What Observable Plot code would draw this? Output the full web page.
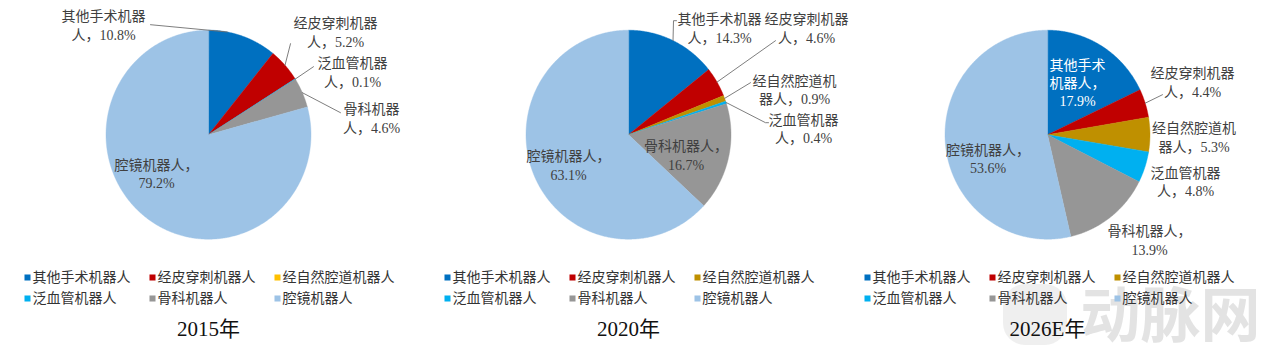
<!DOCTYPE html>
<html>
<head>
<meta charset="utf-8">
<script src="https://cdn.jsdelivr.net/npm/d3@7"></script>
<script src="https://cdn.jsdelivr.net/npm/@observablehq/plot@0.6"></script>
<style>
  html, body { margin: 0; padding: 0; background: #fff; }
  #chart svg { display: block; }
</style>
</head>
<body>
<div id="chart"></div>
<script>
// ---------- data ----------
const categories = ["其他手术机器人", "经皮穿刺机器人", "经自然腔道机器人", "泛血管机器人", "骨科机器人", "腔镜机器人"];
const years = ["2015年", "2020年", "2026E年"];
const share2015 = [10.8, 5.2, 0, 0.1, 4.6, 79.2];
const share2020 = [14.3, 4.6, 0.9, 0.4, 16.7, 63.1];
const share2026 = [17.9, 4.4, 5.3, 4.8, 13.9, 53.6];
const colors2015 = ["#0070C0", "#C00000", "#FFC000", "#00B0F0", "#969696", "#9DC3E6"];
const colorsLater = ["#0070C0", "#C00000", "#BF9000", "#00B0F0", "#969696", "#9DC3E6"];
const watermark = "动脉网";

// ---------- layout (label offsets relative to each pie centre) ----------
const layouts = [
  { // 2015
    0: {dx: -105, dy: -110, brk: [6], leader: [[-58, -110]], edgeDeg: 10.6},
    1: {dx: 127, dy: -103, brk: [6], leader: [[82, -91]]},
    3: {dx: 144, dy: -63, brk: [5], leader: [[105, -68]]},
    4: {dx: 163, dy: -17, brk: [4], leader: [[132, -22]]},
    5: {dx: -52, dy: 38.5, brk: [6]}
  },
  { // 2020
    0: {dx: 91, dy: -107, brk: [6], leader: [[48, -114], [45, -114]]},
    1: {dx: 178, dy: -107, brk: [6], leader: [[147, -94]]},
    2: {dx: 166, dy: -45.5, brk: [6], leader: [[122, -52]]},
    3: {dx: 175, dy: -6.5, brk: [5], leader: [[140, -12], [137, -12]]},
    4: {dx: 57.5, dy: 20, brk: [6]},
    5: {dx: -60, dy: 30, brk: [6]}
  },
  { // 2026E
    0: {dx: 30, dy: -52.5, brk: [4, 8], inside: true},
    1: {dx: 145, dy: -53, brk: [6], leader: [[115, -40]]},
    2: {dx: 146.5, dy: 2, brk: [6]},
    3: {dx: 138, dy: 46.5, brk: [5]},
    4: {dx: 102, dy: 105, brk: [6]},
    5: {dx: -59.5, dy: 23.5, brk: [6]}
  }
];

const panelW = 420, cx0 = 208, cy = 134.2, rx = 102.5, ry = 104.5;
const panels = [
  {year: years[0], values: share2015, colors: colors2015},
  {year: years[1], values: share2020, colors: colorsLater},
  {year: years[2], values: share2026, colors: colorsLater}
];

const slices = [], leaders = [], labels = [], legendItems = [], titles = [];
const pie = d3.pie().sort(null).value(d => d.value);

panels.forEach((p, pi) => {
  const cx = cx0 + panelW * pi - (pi === 2 ? 1 : 0);
  const items = categories.map((c, k) => ({k, name: c, value: p.values[k], color: p.colors[k]})).filter(d => d.value > 0);
  const arcs = pie(items);
  arcs.forEach(a => {
    const key = pi + "-" + a.data.k;
    slices.push({key, x: cx, y: cy, color: a.data.color});
    const n = Math.max(2, Math.ceil((a.endAngle - a.startAngle) / (Math.PI / 360)));
    for (let j = 0; j <= n; j++) {
      const t = a.startAngle + (a.endAngle - a.startAngle) * j / n;
      slices.push({key, x: cx + rx * Math.sin(t), y: cy - ry * Math.cos(t), color: a.data.color});
    }
    const L = layouts[pi][a.data.k];
    if (!L) return;
    const txt = a.data.name + "，" + a.data.value.toFixed(1) + "%";
    const cuts = [0, ...L.brk, txt.length];
    const lines = [];
    for (let j = 0; j < cuts.length - 1; j++) lines.push(txt.slice(cuts[j], cuts[j + 1]));
    labels.push({x: cx + L.dx, y: cy + L.dy, text: lines.join("\n"), fill: L.inside ? "#ffffff" : "#404040"});
    if (L.leader) {
      const mid = L.edgeDeg != null ? L.edgeDeg * Math.PI / 180 : (a.startAngle + a.endAngle) / 2;
      L.leader.forEach(([lx, ly]) => leaders.push({key, x: cx + lx, y: cy + ly}));
      leaders.push({key, x: cx + rx * Math.sin(mid), y: cy - ry * Math.cos(mid)});
    }
  });
  categories.forEach((c, k) => {
    legendItems.push({x: panelW * pi + 27 + (k % 3) * 125, y: 277 + Math.floor(k / 3) * 21, name: c, color: p.colors[k]});
  });
  titles.push({x: cx, y: 329, text: p.year});
});

const labelFont = "'Liberation Serif', 'Noto Sans CJK SC', serif";
const cjkFont = "'Noto Sans CJK SC', sans-serif";

const chart = Plot.plot({
  width: 1267,
  height: 356,
  margin: 0,
  x: {type: "identity", axis: null},
  y: {type: "identity", axis: null},
  color: {type: "identity"},
  style: {background: "#fff"},
  marks: [
    // watermark
    Plot.rect([{x1: 1003, x2: 1067, y1: 284, y2: 345}], {x1: "x1", x2: "x2", y1: "y1", y2: "y2", rx: 22, fill: "#d0d0d0", fillOpacity: 0.35}),
    Plot.text([{x: 1170, y: 317, t: watermark}], {x: "x", y: "y", text: "t", fontSize: 60, fontWeight: "bold", fill: "#c8c8c8", fillOpacity: 0.5, fontFamily: cjkFont}),
    // pies
    Plot.line(slices, {x: "x", y: "y", z: "key", fill: "color", stroke: "color", strokeWidth: 0.4, curve: "linear-closed"}),
    // leader lines
    Plot.line(leaders, {x: "x", y: "y", z: "key", stroke: "#6f6f6f", strokeWidth: 0.9}),
    // data labels
    Plot.text(labels, {x: "x", y: "y", text: "text", fill: "fill", fontSize: 14, lineHeight: 1.3, textAnchor: "middle", fontFamily: labelFont}),
    // legends
    Plot.dot(legendItems, {x: "x", y: "y", symbol: "square", r: 3.4, fill: "color", stroke: null}),
    Plot.text(legendItems, {x: d => d.x + 5, y: "y", text: "name", textAnchor: "start", fontSize: 14, fill: "#333", fontFamily: cjkFont}),
    // titles
    Plot.text(titles, {x: "x", y: "y", text: "text", fontSize: 21, fill: "#111", fontFamily: "'Liberation Serif', 'Noto Sans CJK SC', serif"})
  ]
});
document.getElementById("chart").appendChild(chart);
</script>
</body>
</html>
